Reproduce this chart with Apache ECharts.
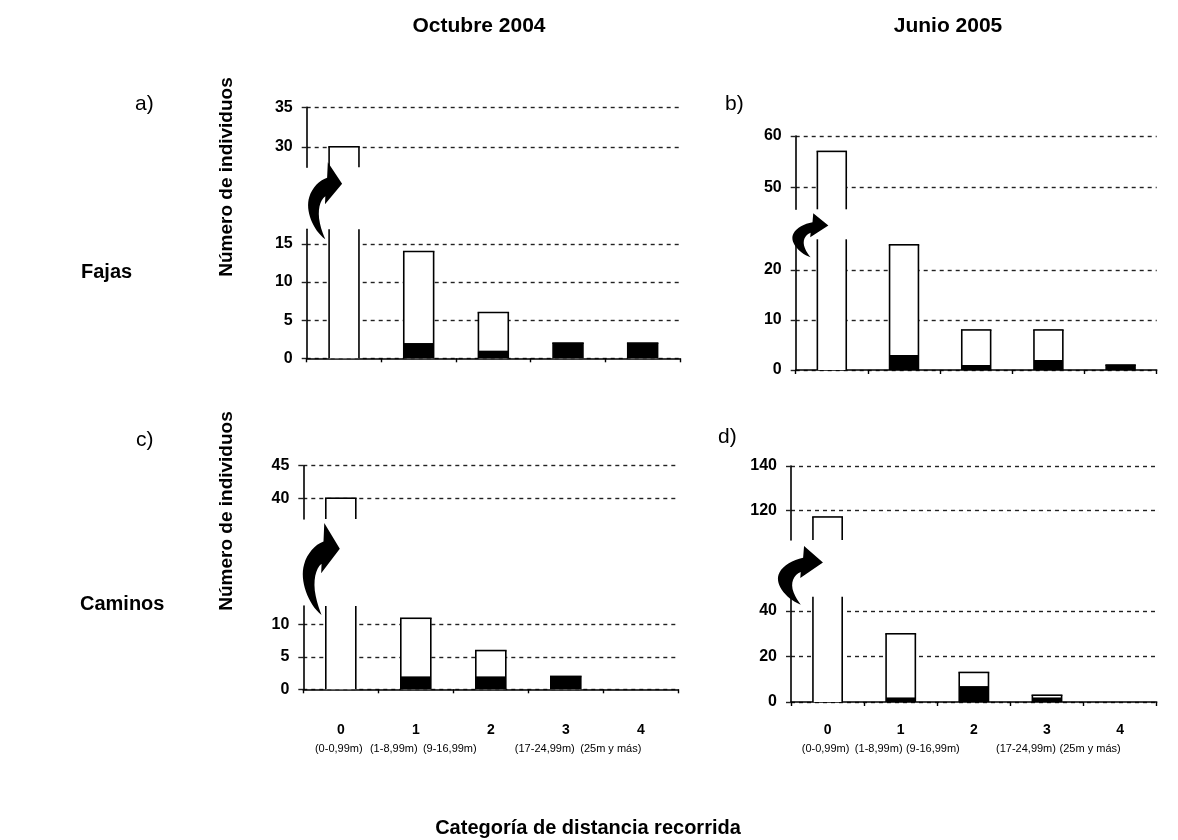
<!DOCTYPE html>
<html><head><meta charset="utf-8">
<script src="https://cdn.jsdelivr.net/npm/echarts@6/dist/echarts.min.js"></script>
<style>html,body{margin:0;padding:0;background:#fff}#c{width:1178px;height:840px}</style>
</head><body><div id="c"></div>
<script>
// ---------------- DATA ----------------
const categories = ['0', '1', '2', '3', '4'];
const rangeLabels = ['(0-0,99m)', '(1-8,99m)', '(9-16,99m)', '(17-24,99m)', '(25m y más)'];
const columnTitles = ['Octubre 2004', 'Junio 2005'];
const rowTitles = ['Fajas', 'Caminos'];
const panelLetters = ['a)', 'b)', 'c)', 'd)'];
const yAxisName = 'Número de individuos';
const xAxisTitle = 'Categoría de distancia recorrida';

// black part of each bar, and total height of the bar
const fajasOctBlack = [0, 2, 1, 2, 2];
const fajasOctTotal = [30, 14, 6, 2, 2];
const fajasJunBlack = [0, 3, 1, 2, 1];
const fajasJunTotal = [57, 25, 8, 8, 1];
const caminosOctBlack = [0, 2, 2, 2, 0];
const caminosOctTotal = [40, 11, 6, 2, 0];
const caminosJunBlack = [0, 2, 7, 2, 0];
const caminosJunTotal = [117, 30, 13, 3, 0];

// tick labels (lower and upper part of each broken axis)
const ticksA_lower = [0, 5, 10, 15], ticksA_upper = [30, 35];
const ticksB_lower = [0, 10, 20], ticksB_upper = [50, 60];
const ticksC_lower = [0, 5, 10], ticksC_upper = [40, 45];
const ticksD_lower = [0, 20, 40], ticksD_upper = [120, 140];

// axis ranges of the two parts of each broken axis
const rangeA_lower = [0, 16.9], rangeA_upper = [27.4, 35];
const rangeB_lower = [0, 26.1], rangeB_upper = [45.7, 60];
const rangeC_lower = [0, 12.9], rangeC_upper = [36.8, 45];
const rangeD_lower = [0, 46.3], rangeD_upper = [106.6, 140];

// ---------------- LAYOUT ----------------
const FONT = "'Liberation Sans', Arial, Helvetica, sans-serif";
const panels = [
  { black: fajasOctBlack, total: fajasOctTotal, lo: rangeA_lower, up: rangeA_upper, tl: ticksA_lower, tu: ticksA_upper,
    left: 306.7, right: 680, upTop: 107.3, upBot: 167.3, loTop: 229.3, loBot: 358.3, xLabels: false, labelMargin: 16, arrow: [-21, 34, -5, 10] },
  { black: fajasJunBlack, total: fajasJunTotal, lo: rangeB_lower, up: rangeB_upper, tl: ticksB_lower, tu: ticksB_upper,
    left: 795.7, right: 1156.7, upTop: 136, upBot: 209.3, loTop: 239.3, loBot: 370, xLabels: false, labelMargin: 16, arrow: [-25, 36, 4, 18] },
  { black: caminosOctBlack, total: caminosOctTotal, lo: rangeC_lower, up: rangeC_upper, tl: ticksC_lower, tu: ticksC_upper,
    left: 303.3, right: 678.3, upTop: 465.7, upBot: 519, loTop: 606, loBot: 689.3, xLabels: true, labelMargin: 31, arrow: [-23, 37, 4, 9] },
  { black: caminosJunBlack, total: caminosJunTotal, lo: rangeD_lower, up: rangeD_upper, tl: ticksD_lower, tu: ticksD_upper,
    left: 791, right: 1156.7, upTop: 466, upBot: 540, loTop: 596.7, loBot: 702, xLabels: true, labelMargin: 18, arrow: [-35, 45, 6, 8] }
];
// the range sub-labels are typed slightly to the left of each category centre
const subLabelShift = [2, 22, 41, 21, 30];

const LW = 1.6;
function renderBar(params, api) {
  const cat = api.value(0), blk = api.value(1), tot = api.value(2);
  if (!(tot > 0)) return null;
  const cs = params.coordSys;
  const gTop = cs.y, gBot = cs.y + cs.height;
  const bw = api.size([1, 0])[0] * 0.4;
  const cx = api.coord([cat, 0])[0];
  const x0 = cx - bw / 2, x1 = cx + bw / 2;
  const y0 = api.coord([cat, 0])[1];
  const yB = api.coord([cat, blk])[1];
  const yT = api.coord([cat, tot])[1];
  const top = Math.max(yT, gTop), bot = Math.min(y0, gBot);
  if (top >= bot) return null;
  const children = [];
  children.push({ type: 'rect', shape: { x: x0, y: top, width: bw, height: bot - top }, style: { fill: '#fff' } });
  if (blk > 0) {
    const bt = Math.max(yB, gTop);
    if (bt < bot) children.push({ type: 'rect', shape: { x: x0, y: bt, width: bw, height: bot - bt }, style: { fill: '#000' } });
  }
  const topClosed = yT >= gTop - 0.01;
  children.push({ type: 'line', shape: { x1: x0, y1: bot, x2: x0, y2: top }, style: { stroke: '#000', lineWidth: LW } });
  children.push({ type: 'line', shape: { x1: x1, y1: bot, x2: x1, y2: top }, style: { stroke: '#000', lineWidth: LW } });
  if (topClosed) children.push({ type: 'line', shape: { x1: x0 - LW / 2, y1: top, x2: x1 + LW / 2, y2: top }, style: { stroke: '#000', lineWidth: LW } });
  return { type: 'group', children: children };
}

// decorative curved arrow drawn in the break of the first bar
const arrowPath = 'M57,233 C22,205 0,145 12,105 C20,77 40,55 62,47 L64,0 L104,65 L56,127 L57,103 C42,115 34,145 42,185 C46,205 52,220 57,233 Z';
function makeArrowRenderer(p) {
  return function (params, api) {
    const bw = api.size([1, 0])[0] * 0.4;
    const x0 = api.coord([0, 0])[0] - bw / 2;
    const a = p.arrow;
    const yTop = p.upBot + a[2];
    const yBot = p.loTop + a[3];
    return { type: 'path', shape: { pathData: arrowPath, x: x0 + a[0], y: yTop, width: a[1], height: yBot - yTop, layout: 'cover' }, style: { fill: '#000' } };
  };
}

const richLabels = {
  n: { fontFamily: FONT, fontWeight: 'bold', fontSize: 14, lineHeight: 20, color: '#000' }
};
subLabelShift.forEach(function (s, i) {
  richLabels['s' + i] = { fontFamily: FONT, fontSize: 11, lineHeight: 18, color: '#000', padding: [0, 2 * s, 0, 0] };
});

const grids = [], xAxes = [], yAxes = [], series = [];
panels.forEach(function (p, pi) {
  [['up', p.upTop, p.upBot, p.up, p.tu], ['lo', p.loTop, p.loBot, p.lo, p.tl]].forEach(function (part) {
    const isLo = part[0] === 'lo';
    const gi = grids.length;
    grids.push({ left: p.left, width: p.right - p.left, top: part[1], height: part[2] - part[1], containLabel: false, outerBoundsMode: 'none' });
    xAxes.push({
      type: 'category', gridIndex: gi, data: categories, boundaryGap: true,
      show: isLo,
      axisLine: { show: true, lineStyle: { color: '#000', width: LW } },
      axisTick: { show: true, length: 4, inside: false, lineStyle: { color: '#000', width: 1.4 } },
      axisLabel: {
        show: isLo && p.xLabels, interval: 0, margin: p.labelMargin, color: '#000',
        formatter: function (v, i) { return '{n|' + v + '}\n{s' + i + '|' + rangeLabels[i] + '}'; },
        rich: richLabels
      },
      splitLine: { show: false }
    });
    yAxes.push({
      type: 'value', gridIndex: gi, min: part[3][0], max: part[3][1],
      axisLine: { show: true, lineStyle: { color: '#000', width: LW } },
      axisTick: { show: true, length: 5, inside: false, customValues: part[4], lineStyle: { color: '#222', width: 1.4 } },
      axisLabel: { customValues: part[4], margin: 14, color: '#000', fontFamily: FONT, fontWeight: 'bold', fontSize: 16 },
      splitLine: { show: true, lineStyle: { color: '#222', width: 1.4, type: [4, 4] } }
    });
    series.push({
      type: 'custom', xAxisIndex: gi, yAxisIndex: gi, z: 5, clip: false,
      renderItem: renderBar,
      data: categories.map(function (c, i) { return [i, p.black[i], p.total[i]]; })
    });
    if (isLo) {
      series.push({
        type: 'custom', xAxisIndex: gi, yAxisIndex: gi, z: 6, clip: false,
        renderItem: makeArrowRenderer(p), data: [[0, 0]]
      });
    }
  });
});

function txt(t, x, y, size, bold, align, rot) {
  return { type: 'text', x: x, y: y, rotation: rot || 0, z: 10,
    style: { text: t, fill: '#000', font: (bold ? 'bold ' : '') + size + 'px ' + FONT, textAlign: align, textVerticalAlign: 'middle' } };
}
const graphics = [];
graphics.push(txt(columnTitles[0], 479, 26, 21, true, 'center'));
graphics.push(txt(columnTitles[1], 948, 26, 21, true, 'center'));
graphics.push(txt(rowTitles[0], 81, 272, 20, true, 'left'));
graphics.push(txt(rowTitles[1], 80, 604, 20, true, 'left'));
graphics.push(txt(panelLetters[0], 135, 104, 21, false, 'left'));
graphics.push(txt(panelLetters[1], 725, 104, 21, false, 'left'));
graphics.push(txt(panelLetters[2], 136, 440, 21, false, 'left'));
graphics.push(txt(panelLetters[3], 718, 437, 21, false, 'left'));
graphics.push(txt(yAxisName, 227, 177, 19, true, 'center', Math.PI / 2));
graphics.push(txt(yAxisName, 227, 511, 19, true, 'center', Math.PI / 2));
graphics.push(txt(xAxisTitle, 588, 828, 20, true, 'center'));

const chart = echarts.init(document.getElementById('c'), null, { renderer: 'canvas' });
chart.setOption({
  backgroundColor: '#fff',
  animation: false,
  grid: grids, xAxis: xAxes, yAxis: yAxes, series: series,
  graphic: { elements: graphics }
});
</script></body></html>
